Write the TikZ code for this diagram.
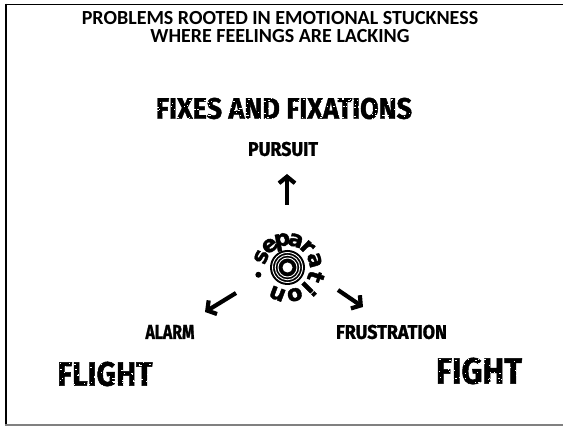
\documentclass[tikz,border=0pt]{standalone}
\usepackage{fontspec}
\usepackage{graphicx}
\setmainfont{Carlito}
\newfontfamily\labelfont[FakeStretch=0.8,FakeBold=1.2]{Fira Sans}
\newfontfamily\grungefont[FakeBold=1.5]{Fira Sans}
\newfontfamily\ringfont[FakeBold=1.8]{DejaVu Sans}
\usetikzlibrary{arrows.meta}

% worn-ink specks scattered over a stencil word: node, width, height, count
\newcommand\scuffword[4]{%
  \foreach \k in {1,...,#4}{%
    \pgfmathsetmacro\sdx{rnd*#2}%
    \pgfmathsetmacro\sdy{rnd*#3}%
    \pgfmathsetmacro\sw{0.6+rnd*1.6}%
    \fill[white] ([shift={(\sdx,\sdy)}]#1.south west) rectangle ++(\sw,0.55);
  }}

\begin{document}
\begin{tikzpicture}[x=1pt,y=1pt,
  heading/.style={font=\bfseries\fontsize{20}{18}\selectfont, align=center, inner sep=0pt},
  tag/.style={inner sep=0pt},
  ringletter/.style={font=\ringfont\bfseries\fontsize{22.5}{22.5}\selectfont, inner sep=0pt},
  push/.style={line width=4.2pt, -{Straight Barb[length=6.5pt,width=16pt]}},
  ]
\useasboundingbox (0,0) rectangle (563,426);
\pgfmathsetseed{4242}

% frame
\draw[line width=1.8pt] (5.8,422.3) -- (5.8,0);
\draw[line width=1.6pt] (5,421.5) -- (563,421.5);
\draw[gray,line width=1.2pt] (5,1) -- (563,1);

% heading
\node[heading] (title) at (280,399) {PROBLEMS ROOTED IN EMOTIONAL STUCKNESS\\WHERE FEELINGS ARE LACKING};

% labels
\node[tag] (fixes) at (284,317.5) {\resizebox{256pt}{21pt}{\grungefont\bfseries FIXES AND FIXATIONS}};
\node[tag] (pursuit) at (283,277) {\resizebox{70pt}{14pt}{\labelfont\bfseries PURSUIT}};
\node[tag] (alarm) at (170,94) {\resizebox{49pt}{14pt}{\labelfont\bfseries ALARM}};
\node[tag] (frustration) at (391.5,94) {\resizebox{111pt}{14pt}{\labelfont\bfseries FRUSTRATION}};
\node[tag] (flight) at (105,52) {\resizebox{95pt}{24pt}{\grungefont\bfseries FLIGHT}};
\node[tag] (fight) at (479,55) {\resizebox{86pt}{26pt}{\grungefont\bfseries FIGHT}};
\scuffword{fixes}{256}{21}{160}
\scuffword{flight}{95}{24}{70}
\scuffword{fight}{86}{26}{70}

% separation emblem
\node[circle, fill=black, minimum size=35pt, inner sep=0pt] (hub) at (287.5,158.5) {};
\foreach \r in {9.5,12.3,15.0}
  \draw[white, line width=0.9pt] (hub.center) circle (\r);
\fill[white] (hub.center) circle (5);
\foreach \ch/\a in {s/158,e/129,p/101,a/73,r/46,a/15,t/-18,i/-45,o/-75,n/-111}
  \node[ringletter, rotate=\a-90, anchor=base] at ([shift={(\a:22)}]hub.center) {\ch};
\fill ([shift={(-166:30)}]hub.center) circle (3);

% arrows
\coordinate (upS) at (287,221);
\coordinate (upE) at (287,252);
\coordinate (leftS) at (236,133);
\coordinate (leftE) at (205,114);
\coordinate (rightS) at (338,136);
\coordinate (rightE) at (363,119);
\draw[push] (upS) -- (upE);
\draw[push] (leftS) -- (leftE);
\draw[push] (rightS) -- (rightE);
\end{tikzpicture}
\end{document}
